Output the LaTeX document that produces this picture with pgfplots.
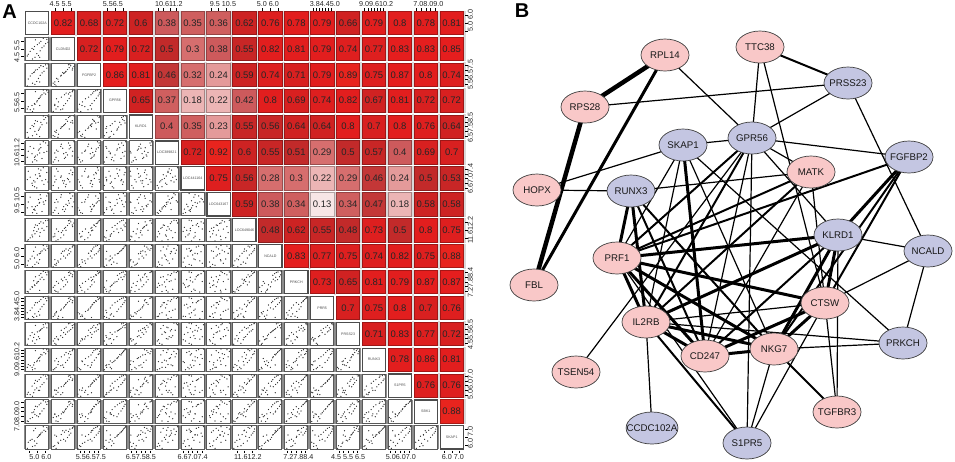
\documentclass[border=0pt]{standalone}
\usepackage{fontspec}
\setmainfont{Liberation Sans}
\usepackage{pgfplots}
\usepackage{pgfplotstable}
\pgfplotsset{compat=1.18}
\usetikzlibrary{shapes.geometric}

% expression values per sample, 0-100 of each gene's panel range
\pgfplotstableread{
g1 g2 g3 g4 g5 g6 g7 g8 g9 g10 g11 g12 g13 g14 g15 g16 g17
8 20 3 15 25 30 45 35 5 12 10 30 6 18 14 10 4
30 8 15 5 12 10 20 15 22 5 28 14 20 8 5 25 12
12 28 32 25 5 55 80 60 10 30 8 6 28 30 22 8 30
40 15 10 35 30 20 35 25 35 15 35 25 10 12 32 38 15
20 40 45 12 42 75 55 80 18 38 20 40 42 25 12 20 38
48 30 22 45 18 15 10 12 45 25 45 15 25 42 40 32 25
28 52 55 30 55 45 30 40 30 50 30 50 55 18 48 45 42
55 22 35 58 35 60 90 70 55 20 52 35 38 55 30 28 55
38 60 62 38 62 30 15 30 62 42 38 62 48 38 60 58 35
62 42 48 65 48 85 60 90 40 62 62 45 65 62 45 40 62
50 68 72 50 72 40 50 45 70 55 50 72 58 48 68 70 50
70 55 58 75 58 25 40 20 58 72 70 55 72 70 55 52 72
58 75 80 60 40 65 70 55 78 60 78 78 62 58 75 78 60
78 62 65 82 80 50 25 50 50 80 60 65 78 80 62 62 80
65 82 88 70 68 70 85 75 85 68 85 85 68 72 85 85 68
42 88 70 88 75 35 65 40 72 88 72 72 85 88 72 72 88
85 72 92 78 88 90 45 65 90 75 90 90 92 75 90 90 75
90 90 78 92 65 55 75 85 65 92 80 80 75 92 78 80 92
95 78 95 85 92 80 35 95 92 82 92 92 95 85 92 92 85
75 95 85 95 95 95 95 60 80 95 95 95 88 95 95 95 95
60 15 20 30 8 48 60 58 25 35 15 20 30 45 30 40 60
35 48 60 15 50 68 40 28 48 70 55 10 35 28 20 48 78
}\samples

% fit line of each lower panel: height at left and right edge
\pgfplotstableread[row sep=\\]{
c r a b\\
1 2 10 100\\
1 3 35 93\\ 2 3 28 93\\
1 4 25 75\\ 2 4 18 83\\ 3 4 5 95\\
1 5 45 100\\ 2 5 20 100\\ 3 5 10 97\\ 4 5 15 90\\
1 6 50 70\\ 2 6 40 80\\ 3 6 40 85\\ 4 6 45 75\\ 5 6 40 80\\
1 7 30 70\\ 2 7 30 67\\ 3 7 30 60\\ 4 7 35 57\\ 5 7 27 67\\ 6 7 5 90\\
1 8 30 65\\ 2 8 28 65\\ 3 8 33 53\\ 4 8 34 50\\ 5 8 35 50\\ 6 8 7 85\\ 7 8 20 80\\
1 9 37 95\\ 2 9 40 85\\ 3 9 20 75\\ 4 9 35 70\\ 5 9 30 80\\ 6 9 35 70\\ 7 9 33 85\\ 8 9 8 97\\
1 10 20 100\\ 2 10 15 97\\ 3 10 8 95\\ 4 10 5 95\\ 5 10 20 80\\ 6 10 30 80\\ 7 10 50 72\\ 8 10 40 87\\ 9 10 30 80\\
1 11 10 100\\ 2 11 13 100\\ 3 11 13 85\\ 4 11 5 95\\ 5 11 13 80\\ 6 11 27 80\\ 7 11 40 65\\ 8 11 35 80\\ 9 11 20 85\\ 10 11 5 95\\
1 12 25 100\\ 2 12 25 100\\ 3 12 7 93\\ 4 12 20 85\\ 5 12 20 75\\ 6 12 50 70\\ 7 12 55 67\\ 8 12 55 72\\ 9 12 25 85\\ 10 12 10 95\\ 11 12 10 90\\
1 13 28 97\\ 2 13 23 95\\ 3 13 5 97\\ 4 13 5 95\\ 5 13 20 95\\ 6 13 33 70\\ 7 13 45 66\\ 8 13 37 75\\ 9 13 25 80\\ 10 13 20 90\\ 11 13 20 85\\ 12 13 20 70\\
1 14 10 97\\ 2 14 5 93\\ 3 14 5 93\\ 4 14 5 90\\ 5 14 5 87\\ 6 14 15 70\\ 7 14 30 65\\ 8 14 15 75\\ 9 14 10 70\\ 10 14 7 93\\ 11 14 7 93\\ 12 14 5 90\\ 13 14 10 80\\
1 15 12 97\\ 2 15 12 87\\ 3 15 0 87\\ 4 15 7 79\\ 5 15 12 87\\ 6 15 33 72\\ 7 15 40 60\\ 8 15 40 60\\ 9 15 15 85\\ 10 15 10 90\\ 11 15 5 90\\ 12 15 10 85\\ 13 15 5 90\\ 14 15 10 85\\
1 16 8 65\\ 2 16 8 72\\ 3 16 5 70\\ 4 16 5 72\\ 5 16 8 70\\ 6 16 22 72\\ 7 16 22 65\\ 8 16 15 78\\ 9 16 10 75\\ 10 16 10 70\\ 11 16 20 70\\ 12 16 10 75\\ 13 16 10 70\\ 14 16 15 75\\ 15 16 10 80\\
1 17 20 100\\ 2 17 14 92\\ 3 17 0 82\\ 4 17 14 82\\ 5 17 18 78\\ 6 17 28 92\\ 7 17 28 75\\ 8 17 20 82\\ 9 17 15 80\\ 10 17 10 85\\ 11 17 15 85\\ 12 17 10 80\\ 13 17 15 80\\ 14 17 10 85\\ 15 17 10 85\\ 16 17 0 100\\
}\fits

% correlations above the diagonal
\pgfplotstableread[row sep=\\]{
c r v\\
2 1 .82\\ 3 1 .68\\ 4 1 .72\\ 5 1 .6\\ 6 1 .38\\ 7 1 .35\\ 8 1 .36\\ 9 1 .62\\ 10 1 .76\\ 11 1 .78\\ 12 1 .79\\ 13 1 .66\\ 14 1 .79\\ 15 1 .8\\ 16 1 .78\\ 17 1 .81\\
3 2 .72\\ 4 2 .79\\ 5 2 .72\\ 6 2 .5\\ 7 2 .3\\ 8 2 .38\\ 9 2 .55\\ 10 2 .82\\ 11 2 .81\\ 12 2 .79\\ 13 2 .74\\ 14 2 .77\\ 15 2 .83\\ 16 2 .83\\ 17 2 .85\\
4 3 .86\\ 5 3 .81\\ 6 3 .46\\ 7 3 .32\\ 8 3 .24\\ 9 3 .59\\ 10 3 .74\\ 11 3 .71\\ 12 3 .79\\ 13 3 .89\\ 14 3 .75\\ 15 3 .87\\ 16 3 .8\\ 17 3 .74\\
5 4 .65\\ 6 4 .37\\ 7 4 .18\\ 8 4 .22\\ 9 4 .42\\ 10 4 .8\\ 11 4 .69\\ 12 4 .74\\ 13 4 .82\\ 14 4 .67\\ 15 4 .81\\ 16 4 .72\\ 17 4 .72\\
6 5 .4\\ 7 5 .35\\ 8 5 .23\\ 9 5 .55\\ 10 5 .56\\ 11 5 .64\\ 12 5 .64\\ 13 5 .8\\ 14 5 .7\\ 15 5 .8\\ 16 5 .76\\ 17 5 .64\\
7 6 .72\\ 8 6 .92\\ 9 6 .6\\ 10 6 .55\\ 11 6 .51\\ 12 6 .29\\ 13 6 .5\\ 14 6 .57\\ 15 6 .4\\ 16 6 .69\\ 17 6 .7\\
8 7 .75\\ 9 7 .56\\ 10 7 .28\\ 11 7 .3\\ 12 7 .22\\ 13 7 .29\\ 14 7 .46\\ 15 7 .24\\ 16 7 .5\\ 17 7 .53\\
9 8 .59\\ 10 8 .38\\ 11 8 .34\\ 12 8 .13\\ 13 8 .34\\ 14 8 .47\\ 15 8 .18\\ 16 8 .58\\ 17 8 .58\\
10 9 .48\\ 11 9 .62\\ 12 9 .55\\ 13 9 .48\\ 14 9 .73\\ 15 9 .5\\ 16 9 .8\\ 17 9 .75\\
11 10 .83\\ 12 10 .77\\ 13 10 .75\\ 14 10 .74\\ 15 10 .82\\ 16 10 .75\\ 17 10 .88\\
12 11 .73\\ 13 11 .65\\ 14 11 .81\\ 15 11 .79\\ 16 11 .87\\ 17 11 .87\\
13 12 .7\\ 14 12 .75\\ 15 12 .8\\ 16 12 .7\\ 17 12 .76\\
14 13 .71\\ 15 13 .83\\ 16 13 .77\\ 17 13 .72\\
15 14 .78\\ 16 14 .86\\ 17 14 .81\\
16 15 .76\\ 17 15 .76\\
17 16 .88\\
}\corrs

\pgfplotstableread{
c name
1 CCDC102A
2 CLDND2
3 FGFBP2
4 GPR56
5 KLRD1
6 LOC389821
7 LOC441164
8 LOC643167
9 LOC649046
10 NCALD
11 PRKCH
12 PRR5
13 PRSS23
14 RUNX3
15 S1PR5
16 SBK1
17 SKAP1
}\diagnames

% tick labels: tx/ly place the top and left copy
\pgfplotstableread[col sep=comma]{
tx,ly,lab
1.9,2.1,4.5 5.5
3.92,4.08,5.56.5
6.08,6,10.611.2
8.17,7.87,9.5 10.5
9.9,10.1,5.0 6.0
12.1,11.95,3.84.45.0
14.08,14,9.09.610.2
16.1,16.2,7.08.09.0
}\evenstrips
\pgfplotstableread[col sep=comma]{
bx,ry,low,right
1.12,0.92,5.0 6.0,5.0 6.0
3.07,3,5.56.57.5,5.56.57.5
5,5.05,6.57.58.5,6.57.58.5
7,7,6.67.07.4,6.67.07.4
9.13,9,11.612.2,11.612.2
11.08,11,7.27.88.4,7.27.88.4
13,13.03,4.5 5.5 6.5,4.55.56.5
15.04,14.95,5.06.07.0,5.06.07.0
17.05,17,6.0 7.0,6.0 7.0
}\oddstrips
% tick positions of the outer axes, k is the strip
\pgfplotstableread[row sep=\\]{
p k\\ 1.7 2\\ 2 2\\ 2.3 2\\ 3.7 4\\ 4 4\\ 4.3 4\\ 5.65 6\\ 5.88 6\\ 6.12 6\\ 6.35 6\\ 7.7 8\\ 8 8\\ 8.3 8\\ 9.7 10\\ 10 10\\ 10.3 10\\
11.64 12\\ 11.76 12\\ 11.88 12\\ 12 12\\ 12.12 12\\ 12.24 12\\ 12.36 12\\ 13.64 14\\ 13.76 14\\ 13.88 14\\ 14 14\\ 14.12 14\\ 14.24 14\\ 14.36 14\\
15.64 16\\ 15.82 16\\ 16 16\\ 16.18 16\\ 16.36 16\\
}\eventicks
\pgfplotstableread[row sep=\\]{
p k\\ .7 1\\ 1 1\\ 1.3 1\\ 2.64 3\\ 2.82 3\\ 3 3\\ 3.18 3\\ 3.36 3\\ 4.64 5\\ 4.82 5\\ 5 5\\ 5.18 5\\ 5.36 5\\ 6.64 7\\ 6.82 7\\ 7 7\\ 7.18 7\\ 7.36 7\\
8.7 9\\ 9 9\\ 9.3 9\\ 10.64 11\\ 10.82 11\\ 11 11\\ 11.18 11\\ 11.36 11\\ 12.64 13\\ 12.82 13\\ 13 13\\ 13.18 13\\ 13.36 13\\ 14.64 15\\ 14.82 15\\ 15 15\\ 15.18 15\\ 15.36 15\\ 16.7 17\\ 17 17\\ 17.3 17\\
}\oddticks

% network
\pgfplotstableread{
x y name
665 55 RPL14
760 47 TTC38
585 107 RPS28
811 172 MATK
537 190 HOPX
617 258 PRF1
534 285 FBL
825 303 CTSW
646 322 IL2RB
705 356 CD247
774 349 NKG7
576 372 TSEN54
837 412 TGFBR3
}\pinknodes
\pgfplotstableread{
x y name
848 83 PRSS23
683 145 SKAP1
752 138 GPR56
909 157 FGFBP2
631 191 RUNX3
838 235 KLRD1
928 251 NCALD
903 343 PRKCH
652 428 CCDC102A
747 443 S1PR5
}\bluenodes

\definecolor{nodepink}{RGB}{249,200,200}
\definecolor{nodeblue}{RGB}{196,198,226}

% cell colour for r = 0.10, 0.15, ... 0.95
\def\shadeR{{255,247,236,228,214,207,205,195,194,200,205,208,216,222,226,229,232,236}}
\def\shadeG{{245,230,181,154,110,95,90,55,42,38,35,34,32,31,30,30,36,44}}
\def\shadeB{{245,230,181,154,110,95,92,55,42,38,35,34,32,31,30,30,30,34}}

\pgfplotsset{
  edge/.style={black, line width=#1, no markers,
    quiver={u=\thisrow{x2}-\thisrow{x}, v=\thisrow{y2}-\thisrow{y}}},
  strip/.style={draw=none, mark=none, point meta=explicit symbolic, nodes near coords,
    nodes near coords style={anchor=center, inner sep=0pt, text=black!85,
      font=\fontsize{7.2}{8}\selectfont, #1}},
  gene/.style={only marks, mark=none, point meta=explicit symbolic, nodes near coords,
    nodes near coords style={ellipse, draw=black!75, fill=#1, line width=.7pt,
      minimum width=48pt, minimum height=32pt, inner xsep=-7pt, inner ysep=-3pt, anchor=center,
      text=black!90, font=\fontsize{9.7}{11}\selectfont}},
  cellvalue/.style={point meta=explicit symbolic, nodes near coords,
    nodes near coords style={anchor=center, inner sep=0pt, text=black!85,
      font=\fontsize{9.5}{11}\selectfont}},
}

\begin{document}
\begin{tikzpicture}
\path[use as bounding box] (0,0) rectangle (955pt,-461pt);

% panel A, in panel units
\begin{axis}[
  at={(0,0)}, anchor=north west,
  x=25.9pt, y=25.9pt, y dir=reverse,
  xmin=-0.44, xmax=36.43, ymin=0.112, ymax=17.911,
  hide axis, clip=false,
]
% dark side bars and frames of the scatter panels
\addplot[only marks, mark=|, mark size=12pt, mark options={draw=black!45, line width=2.4pt}]
  table[x expr=\thisrow{c}-0.47, y=r] {\fits};
\addplot[only marks, mark=|, mark size=12pt, mark options={draw=black!45, line width=2.4pt}]
  table[x expr=\thisrow{c}+0.47, y=r] {\fits};
\addplot[only marks, mark=square*, mark size=11.6pt, mark options={draw=black!65, fill=white, line width=1pt}]
  table[x=c, y=r] {\fits};

% scatter points, one gene against another
\pgfplotsforeachungrouped \rowI in {2,...,17} {
  \pgfplotsforeachungrouped \colI in {1,...,16} {
    \ifnum\colI<\rowI
      \edef\temp{\noexpand\addplot[only marks, mark=*, mark size=0.35pt, black!80]
        table[x expr={\colI-0.46+0.0092*\noexpand\thisrow{g\colI}},
              y expr={\rowI+0.46-0.0092*\noexpand\thisrow{g\rowI}}] {\noexpand\samples};}
      \temp
    \fi
  }
}
\addplot[black, line width=1pt, no markers,
  quiver={u=0.92, v={0.0092*(\thisrow{a}-\thisrow{b})}}]
  table[x expr=\thisrow{c}-0.46, y expr={\thisrow{r}+0.46-0.0092*\thisrow{a}}] {\fits};

% diagonal
\addplot[only marks, mark=square*, mark size=11.6pt,
  mark options={draw=black!70, fill=white, line width=1.2pt},
  point meta=explicit symbolic, nodes near coords,
  nodes near coords style={anchor=center, inner sep=0pt, text=black!70,
    font=\fontsize{3.6}{4}\selectfont}]
  table[x=c, y expr=\thisrow{c}, meta=name] {\diagnames};

% correlation cells, one plot each so that each has its own colour
\addplot[only marks, mark=|, mark size=12.5pt, mark options={draw=black!15, line width=2.5pt}]
  table[x expr=\thisrow{c}+0.5, y=r] {\corrs};
\pgfplotsforeachungrouped \ci in {0,...,135} {
  \pgfplotstablegetelem{\ci}{c}\of\corrs \let\cellc\pgfplotsretval
  \pgfplotstablegetelem{\ci}{r}\of\corrs \let\cellr\pgfplotsretval
  \pgfplotstablegetelem{\ci}{v}\of\corrs \let\cellv\pgfplotsretval
  \pgfmathtruncatemacro\bin{round(\cellv*20)-2}
  \pgfmathtruncatemacro\binR{\shadeR[\bin]}
  \pgfmathtruncatemacro\binG{\shadeG[\bin]}
  \pgfmathtruncatemacro\binB{\shadeB[\bin]}
  \definecolor{cell\ci}{RGB}{\binR,\binG,\binB}
  \edef\temp{\noexpand\addplot[only marks, mark=square*, mark size=11.7pt,
      mark options={draw=cell\ci!72!black, fill=cell\ci, line width=.8pt}, cellvalue]
    coordinates {(\cellc,\cellr) [0\cellv]};}
  \temp
}

% outer axes
\addplot[only marks, mark=|, mark size=1.4pt, black, mark options={line width=.4pt}]
  table[x=p, y expr=0.48] {\eventicks};
\addplot[only marks, mark=|, mark size=1.4pt, black, mark options={line width=.4pt}]
  table[x=p, y expr=17.56] {\oddticks};
\addplot[only marks, mark=-, mark size=1.4pt, black, mark options={line width=.4pt}]
  table[x expr=0.44, y=p] {\eventicks};
\addplot[only marks, mark=-, mark size=1.4pt, black, mark options={line width=.4pt}]
  table[x expr=17.56, y=p] {\oddticks};
\addplot[strip={}] table[x=tx, y expr=0.266, meta=lab] {\evenstrips};
\addplot[strip={}] table[x=bx, y expr=17.74, meta=low] {\oddstrips};
\addplot[strip={rotate=90}] table[x expr=0.216, y=ly, meta=lab] {\evenstrips};
\addplot[strip={rotate=90}] table[x expr=17.72, y=ry, meta=right] {\oddstrips};
\end{axis}

% panel B, in pixels
\begin{axis}[
  at={(0,0)}, anchor=north west,
  x=1pt, y=1pt, y dir=reverse,
  xmin=0, xmax=955, ymin=0, ymax=461,
  hide axis, clip=false,
]
\addplot[edge=1.2pt] table {
x y x2 y2
665 55 752 138
585 107 848 83
760 47 752 138
760 47 825 303
848 83 752 138
848 83 928 251
752 138 683 145
752 138 909 157
752 138 811 172
752 138 838 235
752 138 747 443
752 138 705 356
752 138 576 372
537 190 683 145
537 190 631 191
631 191 811 172
683 145 617 258
683 145 646 322
683 145 903 343
683 145 774 349
811 172 825 303
811 172 705 356
838 235 928 251
928 251 825 303
928 251 903 343
838 235 837 412
825 303 837 412
825 303 747 443
774 349 747 443
646 322 652 428
617 258 747 443
774 349 903 343
646 322 903 343
646 322 825 303
};
\addplot[edge=2pt] table {
x y x2 y2
760 47 848 83
631 191 774 349
631 191 705 356
909 157 617 258
909 157 825 303
909 157 774 349
811 172 646 322
811 172 617 258
752 138 617 258
752 138 646 322
774 349 837 412
646 322 747 443
705 356 838 235
};
\addplot[edge=3pt] table {
x y x2 y2
665 55 534 285
617 258 838 235
617 258 825 303
617 258 646 322
617 258 705 356
617 258 774 349
646 322 705 356
646 322 774 349
705 356 774 349
705 356 825 303
774 349 838 235
774 349 825 303
631 191 617 258
631 191 646 322
683 145 705 356
909 157 838 235
646 322 838 235
838 235 825 303
};
\addplot[edge=4.5pt] table {
x y x2 y2
665 55 585 107
585 107 534 285
};
\addplot[gene=nodepink] table[meta=name] {\pinknodes};
\addplot[gene=nodeblue] table[meta=name] {\bluenodes};

% panel letters
\node[font=\bfseries\fontsize{20}{22}\selectfont, inner sep=0pt] at (axis cs:9.5,12) {A};
\node[font=\bfseries\fontsize{20}{22}\selectfont, inner sep=0pt] at (axis cs:522,11) {B};
\end{axis}
\end{tikzpicture}
\end{document}
